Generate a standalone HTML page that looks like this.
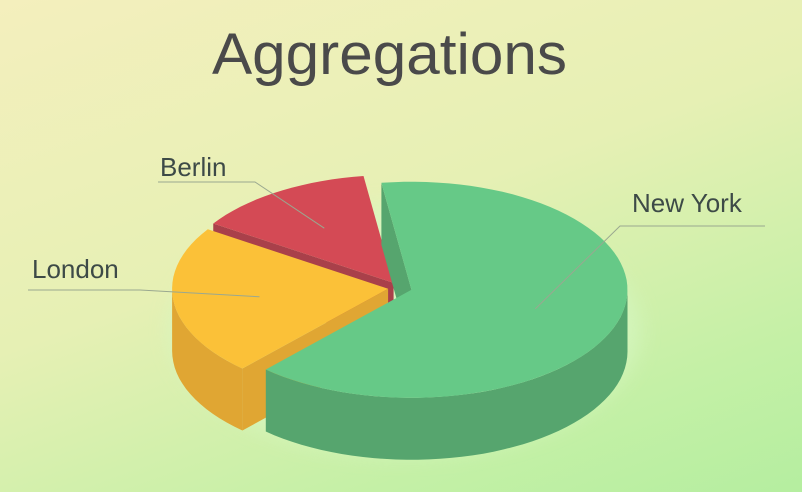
<!DOCTYPE html>
<html><head><meta charset="utf-8">
<style>
html,body{margin:0;padding:0;}
body{width:802px;height:492px;overflow:hidden;background:linear-gradient(160deg,#f4efbd 0%,#e6f0b4 45%,#c4f0a6 80%,#b5eea0 100%);font-family:"Liberation Sans",sans-serif;}
svg{position:absolute;left:0;top:0;}
</style></head>
<body>
<svg id="chart" width="802" height="492" viewBox="0 0 802 492">
<defs>
<filter id="glow" x="-20%" y="-20%" width="140%" height="140%"><feGaussianBlur stdDeviation="10"/></filter>
</defs>
<text x="212" y="74" textLength="355" lengthAdjust="spacingAndGlyphs" font-size="58" fill="#4a4a4a" font-family="Liberation Sans, sans-serif">Aggregations</text>
<ellipse cx="405" cy="330" rx="235" ry="125" fill="#d6f7c2" opacity="0.7" filter="url(#glow)"/>
<g id="slices"></g>
<g id="labels"></g>
</svg>
<script>
const categories = ["New York", "London", "Berlin"];
const values = [64, 22.5, 13.5];
const topColors = ["#66c987", "#fbc138", "#d44a55"];
const sideColors = ["#56a56e", "#e0a633", "#a9404a"];
const startAngle = -98;

const cx = 400, cy = 288, rx = 216, ry = 108, depth = 62, explode = 12;
const NS = "http://www.w3.org/2000/svg";
const total = values.reduce((a, b) => a + b, 0);
const rad = d => d * Math.PI / 180;
function pt(ox, oy, a, dy) { return [ox + rx * Math.cos(rad(a)), oy + ry * Math.sin(rad(a)) + (dy || 0)]; }
function arcPath(ox, oy, a0, a1, dy) {
  let s = "";
  const n = Math.max(2, Math.ceil(Math.abs(a1 - a0) / 3));
  for (let i = 0; i <= n; i++) { const p = pt(ox, oy, a0 + (a1 - a0) * i / n, dy); s += (i ? " L" : "") + p[0].toFixed(1) + "," + p[1].toFixed(1); }
  return s;
}
const slices = [];
let a = startAngle;
values.forEach((v, i) => {
  const sweep = v / total * 360;
  const a0 = a, a1 = a + sweep; a = a1;
  const mid = (a0 + a1) / 2;
  const ox = cx + explode * Math.cos(rad(mid)), oy = cy + explode * 0.5 * Math.sin(rad(mid));
  slices.push({ i, a0, a1, mid, ox, oy });
});
const order = slices.slice().sort((p, q) => Math.sin(rad(p.mid)) - Math.sin(rad(q.mid)));
const g = document.getElementById("slices");
function add(d, fill, name) {
  const p = document.createElementNS(NS, "path");
  p.setAttribute("d", d); p.setAttribute("fill", fill);
  
  
  g.appendChild(p);
}
order.forEach(s => {
  const key = categories[s.i].toLowerCase().replace(/\s+/g, "-");
  [[s.a0, -90], [s.a1, 90]].forEach(([ang, off]) => {
    if (Math.sin(rad(ang + off)) > 0) {
      const r = pt(s.ox, s.oy, ang);
      add(`M${s.ox},${s.oy} L${r[0]},${r[1]} L${r[0]},${r[1] + depth} L${s.ox},${s.oy + depth} Z`, sideColors[s.i], "slice-wall-" + key);
    }
  });
  for (let k = -1; k <= 1; k++) {
    const lo = Math.max(s.a0, k * 360), hi = Math.min(s.a1, k * 360 + 180);
    if (hi > lo) {
      const top = arcPath(s.ox, s.oy, lo, hi, 0);
      const bot = arcPath(s.ox, s.oy, hi, lo, depth);
      add("M" + top + " L" + bot + " Z", sideColors[s.i], "slice-side-" + key);
    }
  }
  add(`M${s.ox},${s.oy} L` + arcPath(s.ox, s.oy, s.a0, s.a1, 0) + " Z", topColors[s.i], "slice-" + key);
});
const lg = document.getElementById("labels");
const labelPos = { "New York": [632, 212, 765, 226], "Berlin": [160, 176, 158, 182], "London": [32, 278, 28, 290] };
slices.forEach(s => {
  const name = categories[s.i];
  const key = name.toLowerCase().replace(/\s+/g, "-");
  const anchor = pt(s.ox, s.oy, s.mid).map((v, j) => j ? s.oy + (v - s.oy) * 0.6 : s.ox + (v - s.ox) * 0.6);
  const [tx, ty, lx, ly] = labelPos[name];
  const right = lx > cx;
  const elbowX = right ? 620 : (name === "Berlin" ? 255 : 140);
  const line = document.createElementNS(NS, "polyline");
  line.setAttribute("points", `${lx},${ly} ${elbowX},${ly} ${anchor[0].toFixed(1)},${anchor[1].toFixed(1)}`);
  line.setAttribute("fill", "none"); line.setAttribute("stroke", "#9aa890"); line.setAttribute("stroke-width", "1");
  
  
  lg.appendChild(line);
  const t = document.createElementNS(NS, "text");
  t.setAttribute("x", tx); t.setAttribute("y", ty);
  t.setAttribute("font-size", "26"); t.setAttribute("fill", "#3d4a47");
  t.textContent = name;
  
  
  lg.appendChild(t);
});
</script>
</body></html>
